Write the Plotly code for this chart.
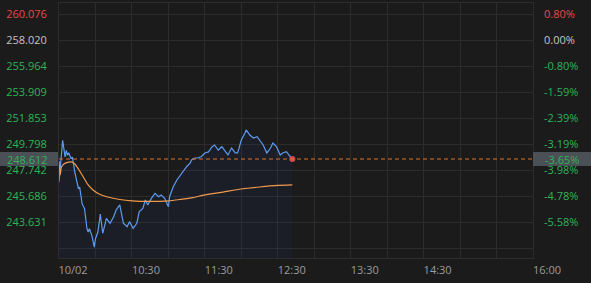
import plotly.graph_objects as go

# ---- data ----
minutes = [0, 3, 5, 6, 7, 8, 10, 11, 13, 15, 16, 17, 18, 19, 21, 22, 23, 24, 25, 27, 28, 29, 30, 32,
           34, 36, 39, 42, 45, 47, 50, 53, 56, 58, 61, 64, 66, 69, 71, 73, 76, 79, 82, 84, 87, 90, 91,
           94, 97, 100, 102, 105, 108, 109, 112, 114, 117, 120, 123, 126, 128, 131, 134, 137, 139,
           142, 145, 147, 150, 153, 154, 157, 160, 163, 165, 168, 171, 174, 176, 179, 182, 184, 187,
           190, 192]
price = [246.79, 250.09, 248.77, 249.30, 248.90, 249.11, 248.64, 248.77, 247.58, 246.79, 246.26,
         246.40, 245.47, 245.08, 244.68, 243.89, 243.10, 242.84, 243.10, 242.58, 241.92, 241.65,
         242.31, 242.84, 244.25, 242.74, 243.92, 243.53, 244.05, 244.58, 244.98, 243.53, 243.26,
         243.66, 243.13, 243.53, 244.45, 244.71, 245.37, 244.98, 245.50, 245.90, 245.63, 245.77,
         245.50, 244.84, 245.63, 246.42, 246.95, 247.35, 247.58, 248.00, 248.30, 248.53, 248.69,
         248.69, 248.79, 249.09, 249.17, 249.58, 249.72, 249.32, 249.58, 249.19, 248.93, 249.48,
         249.09, 249.09, 250.11, 250.67, 250.91, 250.51, 250.27, 250.38, 250.11, 249.72, 249.09,
         249.48, 249.88, 249.58, 248.93, 249.09, 249.19, 248.79, 248.612]

avg_minutes = [0, 1, 2, 4, 7, 10, 13, 16, 20, 24, 28, 33, 40, 50, 60, 75, 90, 100, 110, 120, 135,
               150, 165, 180, 192]
avg_price = [248.45, 247.35, 247.98, 248.22, 248.34, 248.38, 248.22, 247.82, 247.19, 246.56,
             246.16, 245.85, 245.61, 245.41, 245.30, 245.26, 245.30, 245.42, 245.56, 245.77,
             246.00, 246.24, 246.40, 246.52, 246.56]

last_price = 248.612
last_pct = "-3.65%"

y_ticks = [260.076, 258.020, 255.964, 253.909, 251.853, 249.798, 247.742, 245.686, 243.631, 241.575]
y_labels = ["260.076", "258.020", "255.964", "253.909", "251.853", "249.798", "247.742",
            "245.686", "243.631", ""]
pct_labels = ["0.80%", "0.00%", "-0.80%", "-1.59%", "-2.39%", "-3.19%", "-3.98%", "-4.78%",
              "-5.58%", ""]

x_ticks = list(range(0, 391, 30))
x_label_map = {0: "10/02", 60: "10:30", 120: "11:30", 180: "12:30", 240: "13:30",
               300: "14:30", 390: "16:00"}
x_labels = [x_label_map.get(t, "") for t in x_ticks]

# ---- styles ----
BG = "#1b1b1b"
GRID = "#2c2c2c"
RED = "#e84a4a"
GREEN = "#2fb457"
NEUTRAL = "#c4c4c4"
AXIS_TXT = "#9c9c9c"
Y_RANGE = [240.785, 260.946]
FONT = "Open Sans"


def colored(labels):
    out = []
    for i, t in enumerate(labels):
        if t == "":
            out.append("")
        elif i == 0:
            out.append(f"<span style='color:{RED}'>{t}</span>")
        elif i == 1:
            out.append(f"<span style='color:{NEUTRAL}'>{t}</span>")
        else:
            out.append(f"<span style='color:{GREEN}'>{t}</span>")
    return out


fig = go.Figure()

fig.add_trace(go.Scatter(
    x=minutes, y=price, mode="lines",
    line=dict(color="#5b9cf2", width=1.2),
    fill="tozeroy", fillcolor="rgba(40,80,210,0.065)",
    hoverinfo="skip", showlegend=False))

fig.add_trace(go.Scatter(
    x=avg_minutes, y=avg_price, mode="lines",
    line=dict(color="#f09a4c", width=1.2, shape="spline", smoothing=0.6),
    hoverinfo="skip", showlegend=False))

fig.add_trace(go.Scatter(
    x=[minutes[-1]], y=[last_price], mode="markers",
    marker=dict(color="#d8484a", size=6),
    hoverinfo="skip", showlegend=False))

# invisible trace for right axis
fig.add_trace(go.Scatter(
    x=[minutes[-1]], y=[last_price], yaxis="y2", mode="markers",
    marker=dict(opacity=0), hoverinfo="skip", showlegend=False))

# dashed last-price line
fig.add_shape(type="line", xref="paper", x0=0, x1=1, yref="y", y0=last_price, y1=last_price,
              line=dict(color="#d9742e", width=1, dash="4px,3px"), layer="above")

# highlight boxes
fig.add_shape(type="rect", xref="paper", x0=-59 / 474, x1=-1 / 474,
              yref="y", ysizemode="pixel", yanchor=last_price, y0=-7, y1=7,
              fillcolor="#4a5055", line=dict(width=0), layer="above")
fig.add_shape(type="rect", xref="paper", x0=1, x1=1 + 58 / 474,
              yref="y", ysizemode="pixel", yanchor=last_price, y0=-7, y1=7,
              fillcolor="#4a5055", line=dict(width=0), layer="above")

fig.add_annotation(xref="paper", x=0, xshift=-9, xanchor="right", yref="y", y=last_price,
                   text=f"{last_price:.3f}", showarrow=False,
                   font=dict(family=FONT, size=11, color=GREEN))
fig.add_annotation(xref="paper", x=1, xshift=10, xanchor="left", yref="y", y=last_price,
                   text=last_pct, showarrow=False,
                   font=dict(family=FONT, size=11, color=GREEN))

fig.update_layout(
    width=591, height=283,
    margin=dict(l=59, r=58, t=3, b=25),
    paper_bgcolor=BG, plot_bgcolor=BG,
    font=dict(family=FONT, size=11, color=AXIS_TXT),
    xaxis=dict(range=[0, 390], tickvals=x_ticks, ticktext=x_labels,
               showgrid=True, gridcolor=GRID, gridwidth=1, zeroline=False,
               showline=True, linecolor=GRID, mirror=True,
               ticks="", ticklabelshift=14, ticklabelstandoff=2,
               tickfont=dict(color=AXIS_TXT, size=11, family=FONT), fixedrange=True),
    yaxis=dict(range=Y_RANGE, tickvals=y_ticks, ticktext=colored(y_labels),
               showgrid=True, gridcolor=GRID, gridwidth=1, zeroline=False,
               showline=True, linecolor=GRID, mirror=True,
               ticks="", ticklabelstandoff=9, tickfont=dict(size=11, family=FONT)),
    yaxis2=dict(range=Y_RANGE, overlaying="y", side="right", tickvals=y_ticks,
                ticktext=colored(pct_labels), showgrid=False, zeroline=False,
                ticks="", ticklabelstandoff=10, tickfont=dict(size=11, family=FONT)),
)

fig.write_html("out.html")
